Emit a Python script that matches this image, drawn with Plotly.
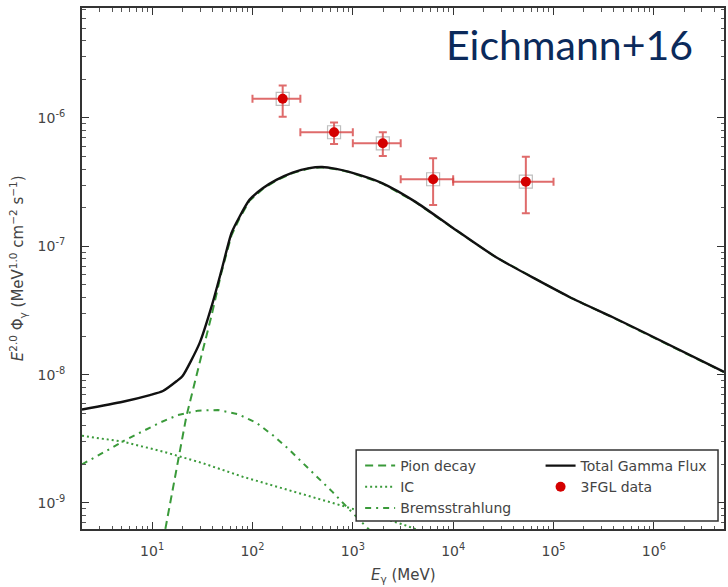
import plotly.graph_objects as go

# ---- model curves: E^2 * flux vs photon energy ----
total_e = [2.0, 5.1, 9.5, 12.8, 17.6, 20.1, 29.7, 40.0, 49.2, 61.8, 74.3, 93.3, 126.5, 173,
           251, 368, 495, 682, 918, 1954, 4256, 9705, 26550, 144200, 385500, 820300, 5.0e6]
total_flux = [5.35e-9, 6.15e-9, 6.93e-9, 7.45e-9, 8.91e-9, 9.75e-9, 1.76e-8, 3.61e-8, 6.53e-8,
              1.27e-7, 1.70e-7, 2.30e-7, 2.83e-7, 3.29e-7, 3.75e-7, 4.07e-7, 4.15e-7, 4.01e-7,
              3.80e-7, 3.11e-7, 2.21e-7, 1.41e-7, 8.26e-8, 4.03e-8, 2.81e-8, 2.11e-8, 1.05e-8]

pion_e = [11.5, 13.9, 17.5, 21.9, 29.7, 38.8, 48.9, 61.8, 74.3, 93.3, 126.5, 173, 251, 368, 495,
          682, 918, 1954, 4256, 9705, 26550, 144200, 385500, 820300, 5.0e6]
pion_flux = [3.16e-10, 7.13e-10, 1.91e-9, 4.70e-9, 1.23e-8, 2.82e-8, 6.19e-8, 1.22e-7, 1.65e-7,
             2.26e-7, 2.80e-7, 3.26e-7, 3.72e-7, 4.05e-7, 4.13e-7, 3.99e-7, 3.79e-7, 3.10e-7,
             2.20e-7, 1.40e-7, 8.22e-8, 4.01e-8, 2.80e-8, 2.10e-8, 1.045e-8]

ic_e = [2.0, 5.14, 12.9, 32.1, 80.0, 200, 499, 853, 3160, 31600]
ic_flux = [3.34e-9, 3.00e-9, 2.51e-9, 2.04e-9, 1.60e-9, 1.30e-9, 1.05e-9, 9.33e-10, 6.8e-10, 3.5e-10]

brems_e = [2.0, 2.23, 3.39, 5.14, 7.83, 11.9, 18.1, 28.6, 45.2, 71.4, 109, 159, 224, 316, 446,
           627, 853, 2000]
brems_flux = [2.0e-9, 2.09e-9, 2.51e-9, 3.03e-9, 3.59e-9, 4.22e-9, 4.84e-9, 5.24e-9, 5.30e-9,
              4.93e-9, 4.22e-9, 3.38e-9, 2.67e-9, 2.06e-9, 1.58e-9, 1.22e-9, 9.46e-10, 4.8e-10]

# ---- 3FGL band fluxes ----
fgl_e = [200, 650, 1990, 6310, 53000]
fgl_flux = [1.41e-6, 7.74e-7, 6.35e-7, 3.33e-7, 3.19e-7]
fgl_e_lo = [100, 300, 1000, 3000, 10000]
fgl_e_hi = [300, 1000, 3000, 10000, 100000]
fgl_flux_lo = [1.02e-6, 6.27e-7, 5.06e-7, 2.10e-7, 1.81e-7]
fgl_flux_hi = [1.79e-6, 9.2e-7, 7.74e-7, 4.85e-7, 4.99e-7]

x_tick_vals = [1e1, 1e2, 1e3, 1e4, 1e5, 1e6]
x_tick_text = ["10<sup>1</sup>", "10<sup>2</sup>", "10<sup>3</sup>", "10<sup>4</sup>",
               "10<sup>5</sup>", "10<sup>6</sup>"]
y_tick_vals = [1e-9, 1e-8, 1e-7, 1e-6]
y_tick_text = ["10<sup>-9</sup>", "10<sup>-8</sup>", "10<sup>-7</sup>", "10<sup>-6</sup>"]

GREEN = "#3a9a3a"
FONT = "DejaVu Sans"
TXT = "#444444"

W, H = 728, 587
ML, MR, MT, MB = 82, 2, 8, 58
PW, PH = W - ML - MR, H - MT - MB


def px_x(px):
    return (px - ML) / PW


def px_y(py):
    return (H - MB - py) / PH


fig = go.Figure()

fig.add_trace(go.Scatter(x=pion_e, y=pion_flux, mode="lines", name="Pion decay",
                         line=dict(color=GREEN, width=2, dash="8px,5px"), legend="legend"))
fig.add_trace(go.Scatter(x=ic_e, y=ic_flux, mode="lines", name="IC",
                         line=dict(color=GREEN, width=2, dash="2px,3px"), legend="legend"))
fig.add_trace(go.Scatter(x=brems_e, y=brems_flux, mode="lines", name="Bremsstrahlung",
                         line=dict(color=GREEN, width=2, dash="6px,5px,2px,5px"), legend="legend"))
fig.add_trace(go.Scatter(x=total_e, y=total_flux, mode="lines", name="Total Gamma Flux",
                         line=dict(color="#111111", width=2.4, shape="spline", smoothing=0.6),
                         legend="legend2"))

err_x_plus = [h - v for h, v in zip(fgl_e_hi, fgl_e)]
err_x_minus = [v - l for v, l in zip(fgl_e, fgl_e_lo)]
err_y_plus = [h - v for h, v in zip(fgl_flux_hi, fgl_flux)]
err_y_minus = [v - l for v, l in zip(fgl_flux, fgl_flux_lo)]

fig.add_trace(go.Scatter(x=fgl_e, y=fgl_flux, mode="markers", showlegend=False,
                         marker=dict(symbol="square-open", size=13,
                                     color="rgba(110,110,110,0.45)", line=dict(width=1.2)),
                         hoverinfo="skip"))
fig.add_trace(go.Scatter(
    x=fgl_e, y=fgl_flux, mode="markers", name="3FGL data", legend="legend2",
    marker=dict(symbol="circle", size=10, color="#d40000"),
    error_x=dict(type="data", symmetric=False, array=err_x_plus, arrayminus=err_x_minus,
                 color="rgba(215,70,70,0.8)", thickness=2, width=4),
    error_y=dict(type="data", symmetric=False, array=err_y_plus, arrayminus=err_y_minus,
                 color="rgba(215,70,70,0.8)", thickness=2, width=4),
))

axis_common = dict(
    type="log", showgrid=False, zeroline=False,
    showline=True, linecolor="#333333", linewidth=2, mirror="allticks",
    ticks="inside", ticklen=7, tickwidth=1.2, tickcolor="#333333",
    tickfont=dict(family=FONT, size=14, color=TXT),
    minor=dict(ticks="inside", ticklen=3.5, tickwidth=1, tickcolor="#555555",
               dtick="D1", showgrid=False),
)

fig.update_xaxes(**axis_common, range=[0.30103, 6.69897],
                 tickvals=x_tick_vals, ticktext=x_tick_text, ticklabelstandoff=8)
fig.update_yaxes(**axis_common, range=[-9.203, -5.143],
                 tickvals=y_tick_vals, ticktext=y_tick_text, ticklabelstandoff=12)

# legend frame enclosing both legend columns
fig.add_shape(type="rect", xref="paper", yref="paper",
              x0=px_x(357), x1=px_x(720), y0=px_y(521), y1=px_y(450),
              fillcolor="white", line=dict(color="#333333", width=1.5), layer="above")

legend_common = dict(bgcolor="rgba(0,0,0,0)", borderwidth=0,
                     font=dict(family=FONT, size=14, color=TXT),
                     xanchor="left", yanchor="top", orientation="v", tracegroupgap=0)

fig.update_layout(
    width=W, height=H,
    margin=dict(l=ML, r=MR, t=MT, b=MB),
    paper_bgcolor="white", plot_bgcolor="white",
    legend=dict(**legend_common, x=px_x(361), y=px_y(450)),
    legend2=dict(**legend_common, x=px_x(542), y=px_y(450)),
    annotations=[
        dict(text="Eichmann+16", xref="paper", yref="paper", x=px_x(697), y=px_y(44),
             xanchor="right", yanchor="middle", showarrow=False,
             font=dict(family="Lato", size=41, color="#0b2a5b")),
        dict(text="<i>E</i><sub>γ</sub> (MeV)", xref="paper", yref="paper",
             x=0.5, y=px_y(575), xanchor="center", yanchor="middle", showarrow=False,
             font=dict(family=FONT, size=15, color=TXT)),
        dict(text="<i>E</i><sup>2.0</sup> Φ<sub>γ</sub> (MeV<sup>1.0</sup> cm<sup>−2</sup> s<sup>−1</sup>)",
             xref="paper", yref="paper", x=px_x(17), y=px_y(268),
             xanchor="center", yanchor="middle", textangle=-90, showarrow=False,
             font=dict(family=FONT, size=15, color=TXT)),
    ],
)

fig.write_html("out.html")
